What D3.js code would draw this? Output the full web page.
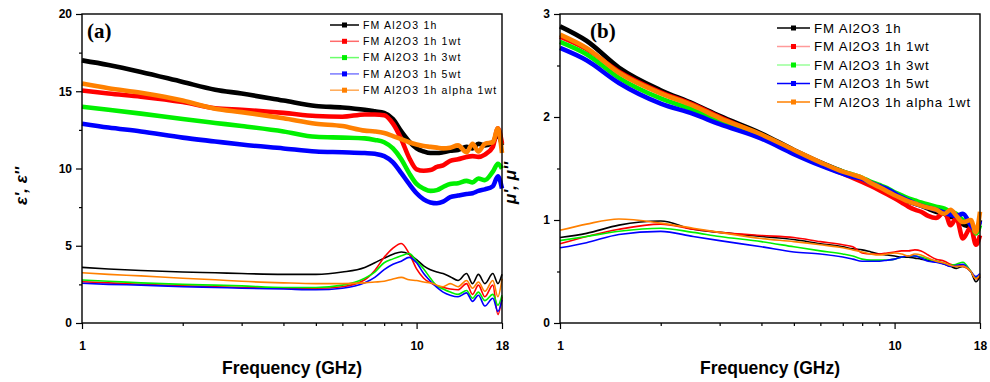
<!DOCTYPE html>
<html>
<head>
<meta charset="utf-8">
<script src="https://cdn.jsdelivr.net/npm/d3@7"></script>
<style>
body { margin: 0; background: #fff; }
svg text { font-family: Arial, "Liberation Sans", sans-serif; }
</style>
</head>
<body>
<div id="chart"></div>
<script>
// frequency grid (GHz) shared by every curve
const freq = [1, 1.2, 1.5, 2, 2.5, 3, 4, 5, 6, 7,
              7.5, 8, 8.5, 9, 9.5, 10, 10.5, 11, 11.5, 12,
              12.6, 13.3, 14.1, 14.7, 15.3, 16, 16.9, 17.5, 18];

const labels = ["FM Al2O3 1h", "FM Al2O3 1h 1wt", "FM Al2O3 1h 3wt", "FM Al2O3 1h 5wt", "FM Al2O3 1h alpha 1wt"];
const colors = ["#000000", "#ff0000", "#00f000", "#0000ff", "#ff8000"];
const legendA = ["#000000", "#ff6b6b", "#6bff6b", "#7a7aff", "#ffa955"];
const legendB = ["#000000", "#ff9a9a", "#9aff9a", "#0000ff", "#ff8000"];

// (a) permittivity, real part
const epsRe_1h = [17.0, 16.7, 16.25, 15.6, 15.1, 14.85, 14.4, 14.05, 13.95, 13.8,
                  13.7, 13.6, 13.2, 12.4, 11.75, 11.3, 11.1, 11.0, 11.0, 11.05,
                  11.15, 11.2, 11.4, 11.3, 11.6, 11.5, 11.7, 12.2, 11.5];
const epsRe_1wt = [15.05, 14.85, 14.65, 14.3, 13.9, 13.8, 13.6, 13.4, 13.35, 13.5,
                   13.5, 13.45, 12.9, 11.9, 10.7, 9.95, 9.85, 9.9, 10.1, 10.2,
                   10.5, 10.6, 10.75, 10.8, 10.75, 10.9, 11.4, 12.6, 11.6];
const epsRe_3wt = [14.0, 13.8, 13.55, 13.2, 12.95, 12.75, 12.4, 12.05, 12.0, 11.95,
                   11.85, 11.7, 11.3, 10.6, 9.7, 9.0, 8.7, 8.55, 8.6, 8.8,
                   9.0, 9.05, 9.2, 9.1, 9.35, 9.25, 9.8, 10.3, 10.0];
const epsRe_5wt = [12.9, 12.65, 12.4, 12.0, 11.75, 11.55, 11.3, 11.1, 11.05, 11.0,
                   10.95, 10.8, 10.4, 9.7, 9.0, 8.4, 8.0, 7.8, 7.75, 7.85,
                   8.15, 8.25, 8.35, 8.4, 8.55, 8.65, 8.85, 9.5, 8.7];
const epsRe_a1wt = [15.5, 15.2, 14.9, 14.4, 13.87, 13.65, 13.25, 12.9, 12.75, 12.45,
                    12.4, 12.3, 12.1, 11.9, 11.7, 11.55, 11.45, 11.4, 11.35, 11.3,
                    11.35, 11.5, 11.05, 11.6, 11.1, 11.6, 11.7, 12.6, 11.0];

// (a) permittivity, imaginary part
const epsIm_1h = [3.6, 3.5, 3.4, 3.3, 3.25, 3.2, 3.15, 3.15, 3.3, 3.6,
                  3.9, 4.2, 4.45, 4.6, 4.45, 4.1, 3.7, 3.45, 3.3, 3.2,
                  3.0, 2.75, 3.2, 2.55, 3.15, 2.55, 3.2, 2.55, 3.15];
const epsIm_1wt = [2.67, 2.6, 2.5, 2.4, 2.35, 2.3, 2.25, 2.25, 2.35, 2.8,
                   3.4, 4.25, 4.85, 5.15, 4.5, 3.5, 2.9, 2.6, 2.4, 2.3,
                   2.2, 2.15, 2.55, 1.85, 2.45, 1.7, 2.45, 0.55, 1.7];
const epsIm_3wt = [2.78, 2.7, 2.6, 2.5, 2.45, 2.4, 2.3, 2.3, 2.45, 2.9,
                   3.3, 3.9, 4.15, 4.35, 4.5, 4.0, 3.5, 2.9, 2.4, 2.2,
                   2.0, 1.85, 2.1, 1.6, 2.0, 1.45, 1.85, 1.15, 1.8];
const epsIm_5wt = [2.57, 2.5, 2.45, 2.35, 2.3, 2.25, 2.2, 2.15, 2.25, 2.6,
                   2.95, 3.45, 3.8, 4.0, 4.25, 3.9, 3.2, 2.7, 2.3, 2.0,
                   1.8, 1.7, 1.95, 1.4, 1.8, 1.1, 1.6, 0.75, 1.5];
const epsIm_a1wt = [3.25, 3.15, 3.05, 2.9, 2.8, 2.7, 2.6, 2.55, 2.55, 2.6,
                    2.65, 2.7, 2.85, 2.95, 2.8, 2.75, 2.65, 2.6, 2.45, 2.35,
                    2.55, 2.35, 2.75, 2.25, 2.65, 2.05, 2.75, 1.7, 2.85];

// (b) permeability, real part
const muRe_1h = [2.88, 2.74, 2.48, 2.26, 2.13, 2.01, 1.84, 1.68, 1.56, 1.47,
                 1.43, 1.40, 1.35, 1.31, 1.27, 1.23, 1.2, 1.18, 1.16, 1.14,
                 1.11, 1.08, 1.06, 1.03, 1.03, 0.96, 0.93, 0.88, 1.0];
const muRe_1wt = [2.78, 2.66, 2.44, 2.24, 2.12, 2.0, 1.82, 1.66, 1.54, 1.45,
                  1.41, 1.37, 1.33, 1.29, 1.25, 1.21, 1.17, 1.13, 1.1, 1.08,
                  1.04, 1.02, 1.08, 0.95, 1.02, 0.82, 0.93, 0.76, 0.85];
const muRe_3wt = [2.73, 2.61, 2.38, 2.18, 2.07, 1.96, 1.81, 1.66, 1.55, 1.47,
                  1.44, 1.41, 1.37, 1.34, 1.31, 1.27, 1.24, 1.21, 1.19, 1.17,
                  1.15, 1.13, 1.11, 1.08, 1.06, 1.0, 0.98, 0.87, 0.95];
const muRe_5wt = [2.67, 2.55, 2.33, 2.13, 2.03, 1.93, 1.79, 1.64, 1.53, 1.45,
                  1.42, 1.40, 1.36, 1.33, 1.3, 1.26, 1.22, 1.19, 1.16, 1.14,
                  1.12, 1.1, 1.07, 1.05, 1.04, 1.06, 0.95, 0.9, 0.99];
const muRe_a1wt = [2.80, 2.67, 2.43, 2.23, 2.11, 1.99, 1.83, 1.68, 1.56, 1.47,
                   1.44, 1.41, 1.36, 1.32, 1.28, 1.24, 1.21, 1.18, 1.16, 1.14,
                   1.12, 1.1, 1.06, 1.1, 1.04, 0.98, 1.0, 0.88, 1.08];

// (b) permeability, imaginary part
const muIm_1h = [0.83, 0.87, 0.95, 0.99, 0.91, 0.88, 0.84, 0.81, 0.77, 0.74,
                 0.72, 0.71, 0.69, 0.67, 0.66, 0.65, 0.64, 0.64, 0.63, 0.62,
                 0.61, 0.6, 0.57, 0.55, 0.53, 0.55, 0.5, 0.4, 0.45];
const muIm_1wt = [0.77, 0.84, 0.91, 0.96, 0.91, 0.88, 0.85, 0.83, 0.79, 0.76,
                  0.74, 0.68, 0.67, 0.67, 0.68, 0.69, 0.7, 0.7, 0.71, 0.7,
                  0.66, 0.62, 0.6, 0.57, 0.56, 0.55, 0.5, 0.43, 0.46];
const muIm_3wt = [0.8, 0.84, 0.89, 0.92, 0.88, 0.84, 0.79, 0.74, 0.7, 0.67,
                  0.65, 0.62, 0.61, 0.61, 0.61, 0.62, 0.64, 0.65, 0.65, 0.64,
                  0.62, 0.6, 0.58, 0.56, 0.57, 0.59, 0.5, 0.44, 0.47];
const muIm_5wt = [0.73, 0.78, 0.86, 0.89, 0.84, 0.8, 0.74, 0.69, 0.67, 0.64,
                  0.62, 0.6, 0.6, 0.6, 0.61, 0.62, 0.64, 0.65, 0.65, 0.63,
                  0.6, 0.59, 0.57, 0.55, 0.56, 0.57, 0.5, 0.45, 0.48];
const muIm_a1wt = [0.9, 0.96, 1.01, 0.97, 0.92, 0.88, 0.82, 0.79, 0.76, 0.73,
                   0.71, 0.69, 0.67, 0.66, 0.67, 0.68, 0.67, 0.65, 0.67, 0.66,
                   0.63, 0.6, 0.58, 0.56, 0.55, 0.55, 0.5, 0.43, 0.47];

const panelA = {
    left: 82, right: 502, top: 14, bottom: 323,
    yDomain: [0, 20], yMajor: [0, 5, 10, 15, 20], yMinor: [2.5, 7.5, 12.5, 17.5],
    thick: [epsRe_1h, epsRe_1wt, epsRe_3wt, epsRe_5wt, epsRe_a1wt],
    thin: [epsIm_1h, epsIm_1wt, epsIm_3wt, epsIm_5wt, epsIm_a1wt],
    tag: "(a)", tagX: 87, ylab: "\u03b5', \u03b5''", ylabX: 27, ylabY: 186,
    legX: 330, legY: 25, legDy: 16.3, legLen: 29, legFont: 10.5, legSpacing: 1.2,
    legColors: legendA
};
const panelB = {
    left: 560, right: 980, top: 14, bottom: 323,
    yDomain: [0, 3], yMajor: [0, 1, 2, 3], yMinor: [0.5, 1.5, 2.5],
    thick: [muRe_1h, muRe_1wt, muRe_3wt, muRe_5wt, muRe_a1wt],
    thin: [muIm_1h, muIm_1wt, muIm_3wt, muIm_5wt, muIm_a1wt],
    tag: "(b)", tagX: 590, ylab: "\u03bc', \u03bc''", ylabX: 516, ylabY: 183,
    legX: 777, legY: 28, legDy: 18.5, legLen: 33, legFont: 13.3, legSpacing: 0.9,
    legColors: legendB
};

const svg = d3.select("#chart").append("svg")
    .attr("width", 990)
    .attr("height", 382);

function drawPanel(p) {
    const x = d3.scaleLog().domain([1, 18]).range([p.left, p.right]);
    const y = d3.scaleLinear().domain(p.yDomain).range([p.bottom, p.top]);
    const g = svg.append("g");

    // y axis, major + minor
    g.append("g").attr("transform", `translate(${p.left},0)`)
        .call(d3.axisLeft(y).tickValues(p.yMajor).tickSize(6).tickPadding(4).tickFormat(d3.format("d")))
        .call(a => a.select(".domain").remove())
        .call(a => a.selectAll("text").attr("font-size", 12).attr("font-weight", "bold"));
    g.append("g").attr("transform", `translate(${p.left},0)`)
        .call(d3.axisLeft(y).tickValues(p.yMinor).tickSize(3).tickFormat(""))
        .call(a => a.select(".domain").remove());

    // x axis, major + minor
    g.append("g").attr("transform", `translate(0,${p.bottom})`)
        .call(d3.axisBottom(x).tickValues([1, 10, 18]).tickSize(6).tickPadding(12).tickFormat(d3.format("d")))
        .call(a => a.select(".domain").remove())
        .call(a => a.selectAll("text").attr("font-size", 12).attr("font-weight", "bold"));
    g.append("g").attr("transform", `translate(0,${p.bottom})`)
        .call(d3.axisBottom(x).tickValues([2, 3, 4, 5, 6, 7, 8, 9]).tickSize(3).tickFormat(""))
        .call(a => a.select(".domain").remove());

    g.selectAll(".tick line").attr("stroke", "#000").attr("stroke-width", 1.2);

    const line = vals => d3.line()
        .x((d, i) => x(freq[i]))
        .y(d => y(d))
        .curve(d3.curveMonotoneX)(vals);

    // imaginary parts (thin) then real parts (thick)
    p.thin.forEach((vals, i) => {
        g.append("path").attr("d", line(vals))
            .attr("fill", "none").attr("stroke", colors[i]).attr("stroke-width", 1.6);
    });
    p.thick.forEach((vals, i) => {
        g.append("path").attr("d", line(vals))
            .attr("fill", "none").attr("stroke", colors[i]).attr("stroke-width", 4.6)
            .attr("stroke-linejoin", "round");
    });

    // frame
    g.append("rect")
        .attr("x", p.left).attr("y", p.top)
        .attr("width", p.right - p.left).attr("height", p.bottom - p.top)
        .attr("fill", "none").attr("stroke", "#000").attr("stroke-width", 1.4);

    // legend
    labels.forEach((lab, i) => {
        const ly = p.legY + i * p.legDy;
        g.append("line")
            .attr("x1", p.legX).attr("x2", p.legX + p.legLen)
            .attr("y1", ly).attr("y2", ly)
            .attr("stroke", p.legColors[i]).attr("stroke-width", 1.5);
        g.append("rect")
            .attr("x", p.legX + p.legLen / 2 - 2.5).attr("y", ly - 2.5)
            .attr("width", 5).attr("height", 5)
            .attr("fill", colors[i]);
        g.append("text")
            .attr("x", p.legX + p.legLen + 4).attr("y", ly)
            .attr("dy", "0.36em")
            .attr("font-size", p.legFont)
            .attr("letter-spacing", p.legSpacing)
            .text(lab);
    });

    // panel tag (serif, set as style so it wins over the sheet rule)
    g.append("text")
        .attr("x", p.tagX).attr("y", 38)
        .style("font-family", "'Liberation Serif', 'Times New Roman', serif")
        .attr("font-weight", "bold").attr("font-size", 21)
        .text(p.tag);

    // axis titles
    g.append("text")
        .attr("x", (p.left + p.right) / 2).attr("y", 374)
        .attr("text-anchor", "middle")
        .attr("font-weight", "bold").attr("font-size", 17.5)
        .text("Frequency (GHz)");
    g.append("text")
        .attr("transform", `translate(${p.ylabX},${p.ylabY}) rotate(-90)`)
        .attr("text-anchor", "middle")
        .attr("font-weight", "bold").attr("font-style", "italic").attr("font-size", 17)
        .text(p.ylab);
}

drawPanel(panelA);
drawPanel(panelB);
</script>
</body>
</html>
